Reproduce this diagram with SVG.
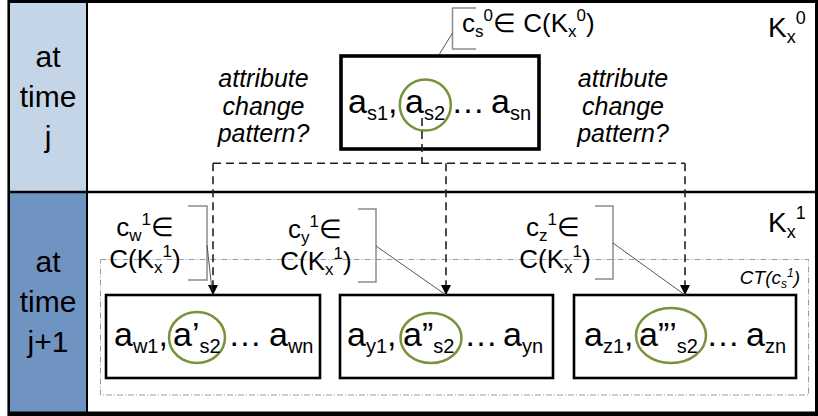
<svg xmlns="http://www.w3.org/2000/svg" width="818" height="416" viewBox="0 0 818 416">
<defs>
<style>
.t{font-family:"Liberation Sans",Arial,sans-serif;fill:#000}
.big{font-size:34px}
.sm{font-size:20px}
.col{font-size:30px;text-anchor:middle}
.it{font-family:"Liberation Sans",Arial,sans-serif;font-style:italic;font-size:25px;text-anchor:middle;fill:#000}
.co{font-size:26px}
.cs{font-size:17px}
.node{fill:#fff;stroke:#000}
.ring{fill:none;stroke:#77933c;stroke-width:2.5}
.dash{fill:none;stroke:#222;stroke-width:1.6;stroke-dasharray:8 5}
.brk{fill:none;stroke:#8c8c8c;stroke-width:1.5}
.lead{fill:none;stroke:#444;stroke-width:0.9}
.ct{fill:none;stroke:#9a9a9a;stroke-width:1;stroke-dasharray:6 2 1 2}
</style>
<marker id="ah" viewBox="0 0 10 10" refX="10" refY="5" markerWidth="10" markerHeight="10" markerUnits="userSpaceOnUse" orient="auto">
<path d="M0,0 L10,5 L0,10 Z" fill="#000"/>
</marker>
</defs>
<rect x="0" y="0" width="818" height="416" fill="#fff"/>
<g id="frame">
<rect x="9" y="2" width="78" height="190" fill="#c5d5e8"/>
<rect x="9" y="192" width="78" height="221" fill="#7094c2"/>
<line x1="8" y1="1.5" x2="818" y2="1.5" stroke="#000" stroke-width="3"/>
<line x1="8" y1="413.8" x2="818" y2="413.8" stroke="#000" stroke-width="4.4"/>
<line x1="8.7" y1="0" x2="8.7" y2="416" stroke="#000" stroke-width="2.6"/>
<line x1="816.5" y1="0" x2="816.5" y2="416" stroke="#000" stroke-width="3"/>
<line x1="87" y1="0" x2="87" y2="416" stroke="#000" stroke-width="2"/>
<line x1="8" y1="192" x2="818" y2="192" stroke="#000" stroke-width="2.6"/>
</g>
<g id="time-j">
<text class="t col" x="48" y="67">at</text>
<text class="t col" x="48" y="107">time</text>
<text class="t col" x="48" y="147">j</text>
</g>
<g id="time-j1">
<text class="t col" x="48" y="272">at</text>
<text class="t col" x="48" y="312">time</text>
<text class="t col" x="48" y="352">j+1</text>
</g>
<g id="kx0">
<text class="t" x="768" y="37" style="font-size:28px">K<tspan dy="6" style="font-size:18px">x</tspan><tspan dy="-19" style="font-size:18px">0</tspan></text>
</g>
<g id="kx1">
<text class="t" x="768" y="232" style="font-size:28px">K<tspan dy="6" style="font-size:18px">x</tspan><tspan dy="-19" style="font-size:18px">1</tspan></text>
</g>
<g id="ct-region">
<rect class="ct" x="100.5" y="259.5" width="708" height="135.5"/>
<text x="800" y="284" style="font-family:'Liberation Sans',Arial,sans-serif;font-style:italic;font-size:19px;text-anchor:end">CT(c<tspan dy="4" style="font-size:12px">s</tspan><tspan dy="-11" style="font-size:12px">1</tspan><tspan dy="7">)</tspan></text>
</g>
<g id="pattern-left">
<text class="it" x="263.5" y="87">attribute</text>
<text class="it" x="263.5" y="114.5">change</text>
<text class="it" x="263.5" y="142">pattern?</text>
</g>
<g id="pattern-right">
<text class="it" x="623" y="87">attribute</text>
<text class="it" x="623" y="114.5">change</text>
<text class="it" x="623" y="142">pattern?</text>
</g>
<g id="node-s">
<rect class="node" x="341" y="56" width="198" height="93" stroke-width="3.6"/>
<circle class="ring" cx="425.3" cy="105" r="25.5"/>
<text class="t big" x="348" y="112.5">a<tspan class="sm" dy="7">s1</tspan><tspan dy="-7">,</tspan></text>
<text class="t big" x="405" y="112.5">a<tspan class="sm" dy="7">s2</tspan></text>
<text class="t big" x="451" y="112.5">…</text>
<text class="t big" x="491" y="112.5">a<tspan class="sm" dy="7">sn</tspan></text>
</g>
<g id="callout-s">
<path class="brk" d="M476,8 H452.5 V49 H476"/>
<path class="lead" d="M452.5,33 L439.5,54"/>
<text class="t co" x="462" y="32">c<tspan class="cs" dy="5">s</tspan><tspan class="cs" dy="-16">0</tspan><tspan dy="11">∈ C(K</tspan><tspan class="cs" dy="5">x</tspan><tspan class="cs" dy="-16">0</tspan><tspan dy="11">)</tspan></text>
</g>
<g id="node-w">
<rect class="node" x="106" y="295" width="214" height="83" stroke-width="2.6"/>
<ellipse class="ring" cx="197" cy="337.5" rx="28" ry="25.5"/>
<text class="t big" x="114" y="346">a<tspan class="sm" dy="7">w1</tspan><tspan dy="-7">,</tspan></text>
<text class="t big" x="173" y="346">a’<tspan class="sm" dy="7">s2</tspan></text>
<text class="t big" x="228" y="346">…</text>
<text class="t big" x="269" y="346">a<tspan class="sm" dy="7">wn</tspan></text>
</g>
<g id="node-y">
<rect class="node" x="340" y="295" width="213" height="83" stroke-width="2.6"/>
<ellipse class="ring" cx="431" cy="338" rx="30.5" ry="25"/>
<text class="t big" x="347" y="346">a<tspan class="sm" dy="7">y1</tspan><tspan dy="-7">,</tspan></text>
<text class="t big" x="403" y="346">a”<tspan class="sm" dy="7">s2</tspan></text>
<text class="t big" x="464" y="346">…</text>
<text class="t big" x="503" y="346">a<tspan class="sm" dy="7">yn</tspan></text>
</g>
<g id="node-z">
<rect class="node" x="574" y="295" width="222" height="83" stroke-width="2.6"/>
<ellipse class="ring" cx="671" cy="335.5" rx="35" ry="27.5"/>
<text class="t big" x="584" y="346">a<tspan class="sm" dy="7">z1</tspan><tspan dy="-7">,</tspan></text>
<text class="t big" x="639" y="346">a”’<tspan class="sm" dy="7">s2</tspan></text>
<text class="t big" x="706" y="346">…</text>
<text class="t big" x="746" y="346">a<tspan class="sm" dy="7">zn</tspan></text>
</g>
<g id="callout-w">
<path class="brk" d="M188,206 H207 V280 H188"/>
<text class="t co" x="145" y="236" text-anchor="middle">c<tspan class="cs" dy="5">w</tspan><tspan class="cs" dy="-16">1</tspan><tspan dy="11">∈</tspan></text>
<text class="t co" x="145" y="268" text-anchor="middle">C(K<tspan class="cs" dy="5">x</tspan><tspan class="cs" dy="-16">1</tspan><tspan dy="11">)</tspan></text>
</g>
<g id="callout-y">
<path class="brk" d="M358,209 H376 V282 H358"/>
<text class="t co" x="315" y="238" text-anchor="middle">c<tspan class="cs" dy="5">y</tspan><tspan class="cs" dy="-16">1</tspan><tspan dy="11">∈</tspan></text>
<text class="t co" x="316" y="270" text-anchor="middle">C(K<tspan class="cs" dy="5">x</tspan><tspan class="cs" dy="-16">1</tspan><tspan dy="11">)</tspan></text>
</g>
<g id="callout-z">
<path class="brk" d="M595,206 H613 V279 H595"/>
<text class="t co" x="553" y="236" text-anchor="middle">c<tspan class="cs" dy="5">z</tspan><tspan class="cs" dy="-16">1</tspan><tspan dy="11">∈</tspan></text>
<text class="t co" x="555" y="268" text-anchor="middle">C(K<tspan class="cs" dy="5">x</tspan><tspan class="cs" dy="-16">1</tspan><tspan dy="11">)</tspan></text>
</g>
<g id="connectors">
<path class="dash" d="M422,118 V163.3"/>
<path class="dash" d="M213,163.3 H685"/>
<path class="dash" d="M213,163.3 V295" marker-end="url(#ah)"/>
<path class="dash" d="M446,163.3 V295" marker-end="url(#ah)"/>
<path class="dash" d="M685,163.3 V295" marker-end="url(#ah)"/>
<path class="lead" d="M207,245 L212,290"/>
<path class="lead" d="M376,246 L446,295"/>
<path class="lead" d="M613,243 L685,295"/>
</g>
</svg>
